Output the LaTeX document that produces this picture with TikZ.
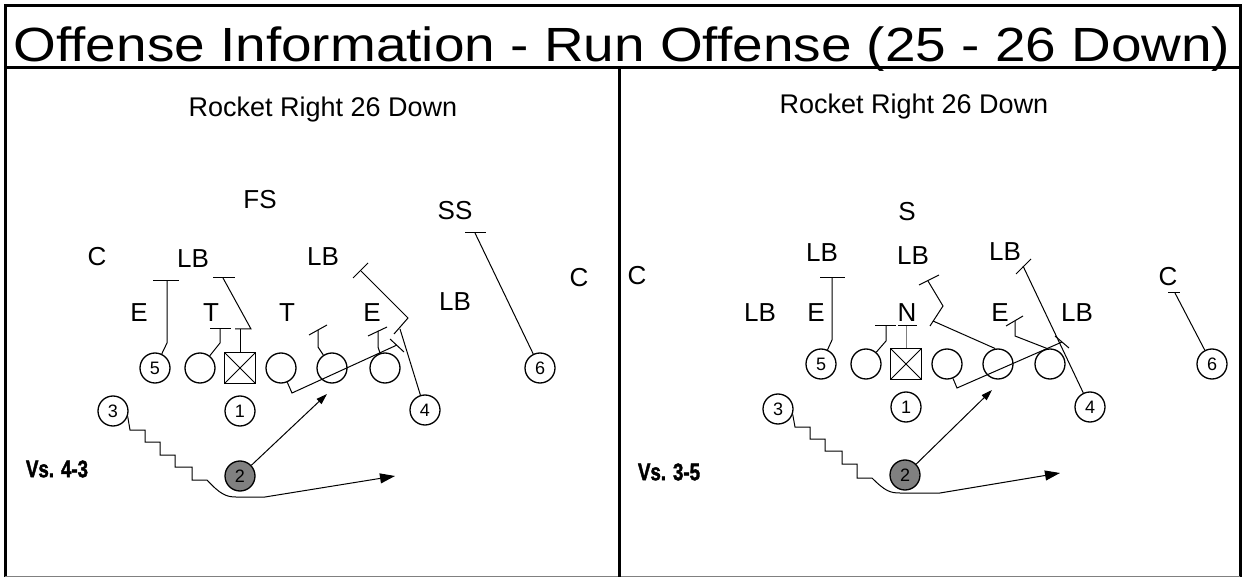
\documentclass[tikz,border=0pt]{standalone}
\usepackage{fontspec}
\setmainfont{Liberation Sans}
\newfontfamily\vsfont[FakeBold=2]{Liberation Sans Bold}
\usetikzlibrary{arrows.meta}
\definecolor{carrier}{RGB}{128,128,128}
\definecolor{edgegray}{RGB}{128,128,128}
\begin{document}
\begin{tikzpicture}[x=1pt,y=-1pt,
  frameline/.style={line width=3pt},
  player/.style={circle,draw,line width=1.3pt,minimum size=30pt,inner sep=0pt,
    font=\fontsize{18}{18}\selectfont},
  carrierp/.style={player,fill=carrier},
  centre/.style={rectangle,draw,line width=1.3pt,minimum size=31pt,inner sep=0pt,
    path picture={\draw[line width=1pt]
      (path picture bounding box.north west)--(path picture bounding box.south east)
      (path picture bounding box.south west)--(path picture bounding box.north east);}},
  def/.style={font=\fontsize{26}{26}\selectfont,inner sep=0pt},
  playname/.style={font=\fontsize{27}{27}\selectfont,inner sep=0pt},
  vslabel/.style={font=\fontsize{24}{24}\vsfont,inner sep=0pt},
  blk/.style={line width=1pt},
  motion/.style={line width=1pt,-{Triangle[length=15pt,width=10pt]}},
  lead/.style={line width=1pt,-{Triangle[length=11pt,width=7pt]}}
]
\useasboundingbox (0,0) rectangle (1243,577);
\fill[white] (0,0) rectangle (1243,577);

% ---------- frame ----------
\coordinate (tl) at (5,6);
\coordinate (tr) at (1240,6);
\coordinate (bl) at (5,577);
\coordinate (br) at (1240,577);
\coordinate (hl) at (5,68);
\coordinate (hr) at (1240,68);
\coordinate (dt) at (619,68);
\coordinate (db) at (619,577);
\draw[frameline] (bl) -- (tl) -- (tr) -- (br);
\draw[edgegray,line width=1pt] (5,576) -- (1240,576);
\draw[frameline] (hl) -- (hr);
\draw[frameline] (dt) -- (db);

\node[font=\fontsize{48}{48}\selectfont,inner sep=0pt,anchor=base] (title) at (622,62)
  {\scalebox{1.145}[1]{Offense Information - Run Offense (25 - 26 Down)}};

% ================= left panel: vs. 4-3 =================
\node[playname] (lname) at (323,110) {Rocket Right 26 Down};
\node[vslabel] (lvs) at (57,469) {\scalebox{0.78}[1]{Vs. 4-3}};

% defence
\node[def] (lfs) at (260,200) {FS};
\node[def] (lss) at (455,211) {SS};
\node[def] (lcl) at (97,257) {C};
\node[def] (llb1) at (193,259) {LB};
\node[def] (llb2) at (323,257) {LB};
\node[def] (lcr) at (579,278) {C};
\node[def] (lel) at (139,313) {E};
\node[def] (ltl) at (211,313) {T};
\node[def] (ltr) at (287,313) {T};
\node[def] (ler) at (372,313) {E};
\node[def] (llb3) at (455,302) {LB};

% offence
\node[player] (l5) at (155,368) {5};
\node[player] (llg) at (200,368) {};
\node[centre] (lc) at (240,368) {};
\node[player] (lrg) at (281,368) {};
\node[player] (lrt) at (332,368) {};
\node[player] (lte) at (385,368) {};
\node[player] (lqb) at (240,411) {1};
\node[carrierp] (lhb) at (240,476) {2};
\node[player] (lwb) at (113,411) {3};
\node[player] (lwr) at (425,410) {4};
\node[player] (lslot) at (540,368) {6};

% blocks
\coordinate (l5e) at (167,281);
\draw[blk] (l5) -- (167,343) -- (l5e);
\draw[blk] ([xshift=-14pt]l5e) -- ([xshift=12pt]l5e);

\coordinate (llge) at (220,329);
\draw[blk] (llg) -- (220,343) -- (llge);
\draw[blk] ([xshift=-10pt]llge) -- ([xshift=11pt]llge);

\coordinate (lcm) at (240,329);
\coordinate (lce) at (223,278);
\draw[blk] (lc) -- (lcm);
\draw[blk] ([xshift=-5pt]lcm) -- ([xshift=11pt]lcm) -- (lce);
\draw[blk] ([xshift=-10pt]lce) -- ([xshift=12pt]lce);

\coordinate (lrge) at (397,345);
\draw[blk] (lrg) -- (292,393) -- (lrge);
\draw[blk] ([shift={(-7,-6)}]lrge) -- ([shift={(7,7)}]lrge);

\coordinate (lrte) at (318,330);
\draw[blk] (lrt) -- (318,347) -- (lrte);
\draw[blk] ([shift={(-9,5)}]lrte) -- ([shift={(9,-5)}]lrte);

\coordinate (ltee) at (378,331);
\draw[blk] (lte) -- (378,347) -- (ltee);
\draw[blk] ([shift={(-10,5)}]ltee) -- ([shift={(9,-4)}]ltee);

\coordinate (lwrj) at (400,329);
\coordinate (lzig) at (394,334);
\coordinate (llbe) at (361,271);
\draw[blk] (lwr) -- (lwrj);
\draw[blk] (lzig) -- (408,318) -- (llbe);
\draw[blk] ([shift={(-8,7)}]llbe) -- ([shift={(7,-8)}]llbe);

\coordinate (lsse) at (475,233);
\draw[blk] (lslot) -- (lsse);
\draw[blk] ([xshift=-10pt]lsse) -- ([xshift=11pt]lsse);

% ball carrier and motion
\coordinate (lhole) at (327,394);
\draw[lead] (lhb) -- (lhole);
\coordinate (lend) at (395,476);
\draw[motion] (lwb.-20) -- (130,430) -- (145,430) -- (145,442) -- (160,442)
  -- (160,455) -- (175,455) -- (175,467) -- (192,467) -- (192,480) -- (207,480)
  .. controls (220,494) and (226,497) .. (236,497) -- (265,497) -- (lend);

% ================= right panel: vs. 3-5 =================
\node[playname] (rname) at (914,107) {Rocket Right 26 Down};
\node[vslabel] (rvs) at (669,472) {\scalebox{0.78}[1]{Vs. 3-5}};

% defence
\node[def] (rs) at (907,212) {S};
\node[def] (rlb1) at (822,253) {LB};
\node[def] (rlb2) at (913,256) {LB};
\node[def] (rlb3) at (1005,252) {LB};
\node[def] (rcl) at (637,276) {C};
\node[def] (rcr) at (1168,277) {C};
\node[def] (rlb4) at (760,313) {LB};
\node[def] (rel) at (816,313) {E};
\node[def] (rn) at (907,313) {N};
\node[def] (rer) at (1000,313) {E};
\node[def] (rlb5) at (1077,313) {LB};

% offence
\node[player] (r5) at (821,364) {5};
\node[player] (rlg) at (866,364) {};
\node[centre] (rc) at (906,364) {};
\node[player] (rrg) at (947,364) {};
\node[player] (rrt) at (998,364) {};
\node[player] (rte) at (1050,364) {};
\node[player] (rqb) at (906,407) {1};
\node[carrierp] (rhb) at (905,475) {2};
\node[player] (rwb) at (778,409) {3};
\node[player] (rwr) at (1090,407) {4};
\node[player] (rslot) at (1212,364) {6};

% blocks
\coordinate (r5e) at (832,278);
\draw[blk] (r5) -- (832,340) -- (r5e);
\draw[blk] ([xshift=-12pt]r5e) -- ([xshift=13pt]r5e);

\coordinate (rlge) at (886,326);
\draw[blk] (rlg) -- (886,341) -- (rlge);
\draw[blk] ([xshift=-11pt]rlge) -- ([xshift=10pt]rlge);

\coordinate (rcm) at (906,326);
\draw[blk,gray] (rc) -- (rcm);
\draw[blk] ([xshift=-8pt]rcm) -- ([xshift=11pt]rcm);

\coordinate (rrge) at (1062,342);
\draw[blk] (rrg) -- (957,388) -- (rrge);
\draw[blk] ([shift={(-7,-6)}]rrge) -- ([shift={(7,6)}]rrge);

\coordinate (rrtj) at (933,321);
\coordinate (rzig) at (930,326);
\coordinate (rlb2e) at (928,281);
\draw[blk] (rrt.100) -- (rrtj);
\draw[blk] (rzig) -- (943,306) -- (rlb2e);
\draw[blk] ([shift={(-9,4)}]rlb2e) -- ([shift={(11,-6)}]rlb2e);

\coordinate (rtee) at (1015,321);
\draw[blk] (rte.100) -- (1015,336) -- (rtee);
\draw[blk] ([shift={(-9,5)}]rtee) -- ([shift={(8,-5)}]rtee);

\coordinate (rlbe) at (1023,266);
\draw[blk] (rwr) -- (rlbe);
\draw[blk] ([shift={(-7,8)}]rlbe) -- ([shift={(8,-7)}]rlbe);

\coordinate (rce) at (1175,293);
\draw[blk] (rslot) -- (rce);
\draw[blk] ([xshift=-7pt]rce) -- ([xshift=5pt]rce);

% ball carrier and motion
\coordinate (rhole) at (992,390);
\draw[lead] (rhb) -- (rhole);
\coordinate (rend) at (1060,473);
\draw[motion] (rwb.-20) -- (795,427) -- (810,427) -- (810,439) -- (825,439)
  -- (825,451) -- (842,451) -- (842,464) -- (857,464) -- (857,478) -- (872,478)
  .. controls (885,491) and (890,493) .. (900,493) -- (940,493) -- (rend);
\end{tikzpicture}
\end{document}
